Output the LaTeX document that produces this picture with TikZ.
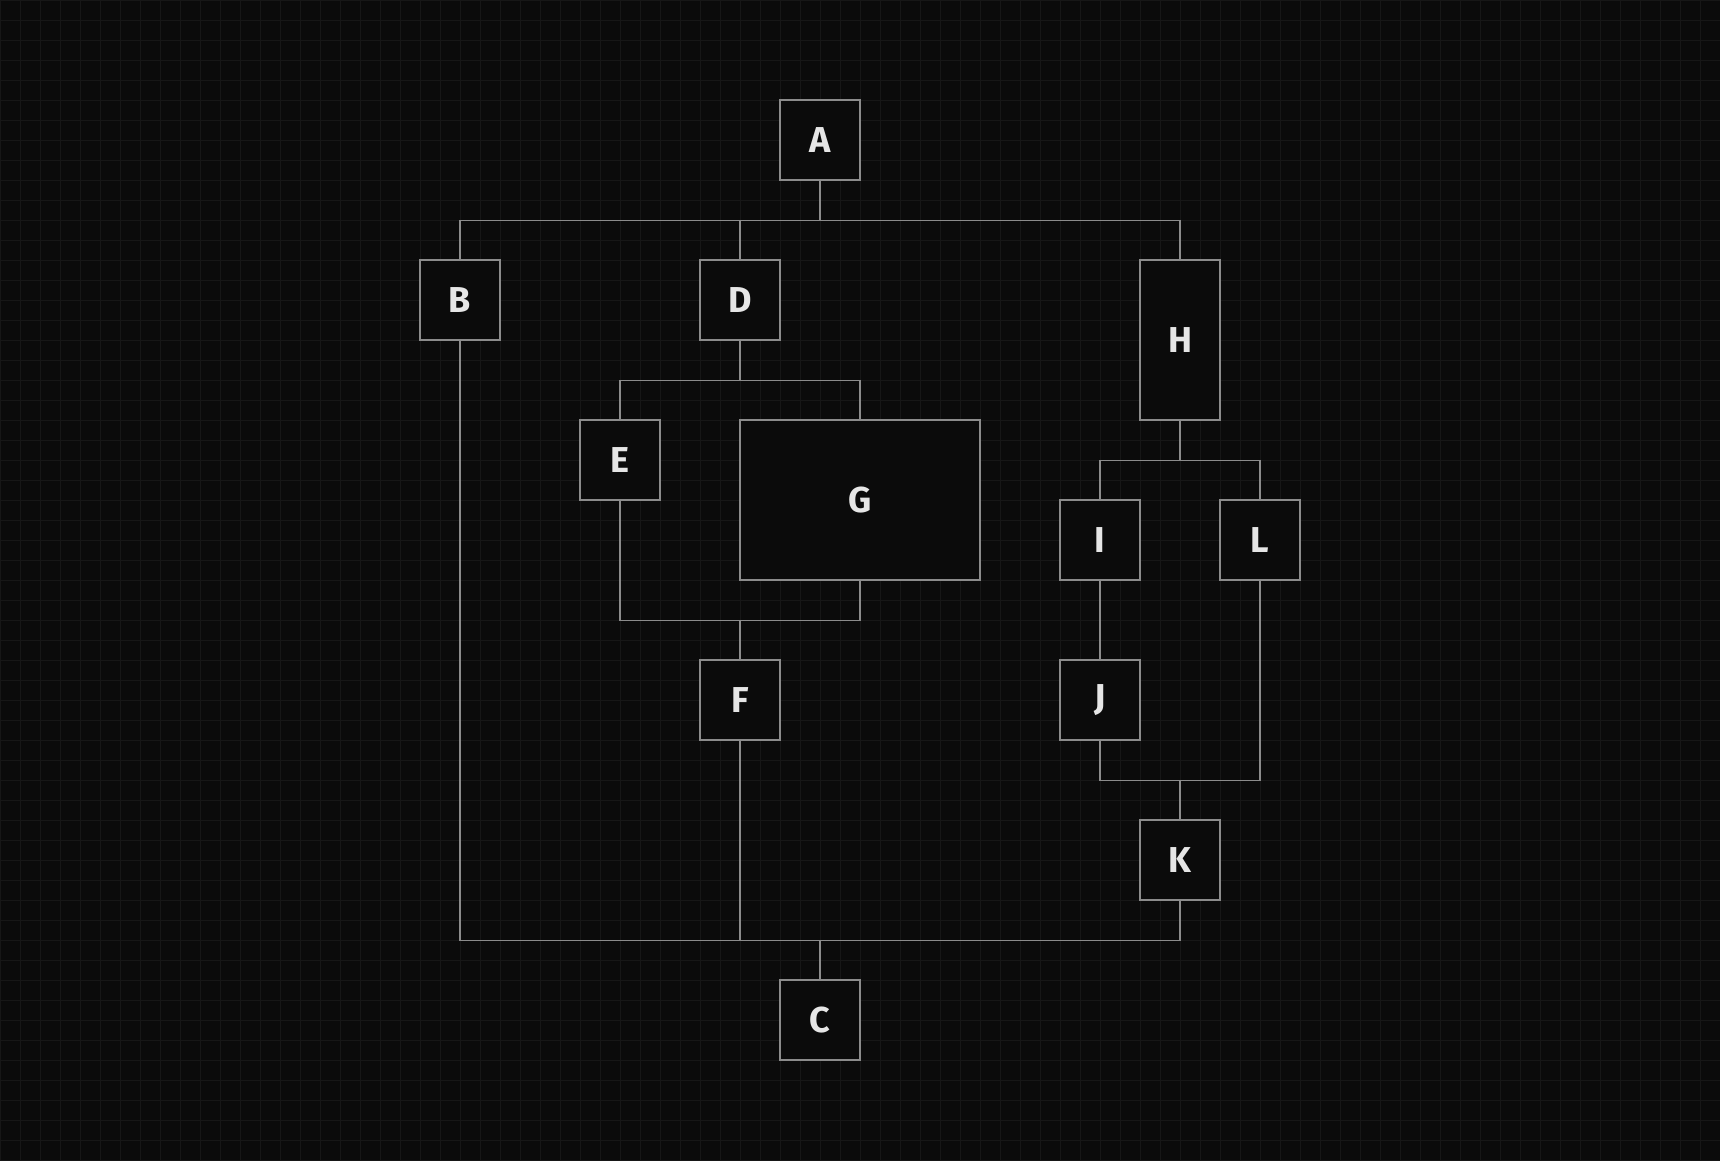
\documentclass[tikz,border=0pt]{standalone}
\usepackage{fontspec}
\setmainfont{Fira Sans}
\definecolor{bg}{HTML}{0B0B0B}
\definecolor{gridc}{HTML}{171717}
\definecolor{edge}{HTML}{8C8C8C}
\definecolor{txt}{HTML}{E6E6E6}
\begin{document}
\begin{tikzpicture}[x=1pt,y=-1pt,
  box/.style={draw=edge,line width=1.4pt,fill=bg,text=txt,inner sep=0pt,
    minimum width=80pt,minimum height=80pt,font=\fontsize{36}{40}\selectfont\bfseries},
  wire/.style={draw=edge,line width=1.4pt}]
\fill[bg] (0,0) rectangle (1720,1160);
\useasboundingbox (0,0) rectangle (1720,1160);
\draw[gridc,line width=1pt] (0,0) grid[step=20pt] (1720,1160);
\node[box] (A) at (820,140) {A};
\node[box] (B) at (460,300) {B};
\node[box] (D) at (740,300) {D};
\node[box,minimum height=160pt] (H) at (1180,340) {H};
\node[box] (E) at (620,460) {E};
\node[box,minimum width=240pt,minimum height=160pt] (G) at (860,500) {G};
\node[box] (F) at (740,700) {F};
\node[box] (I) at (1100,540) {I};
\node[box] (L) at (1260,540) {L};
\node[box] (J) at (1100,700) {J};
\node[box] (K) at (1180,860) {K};
\node[box] (C) at (820,1020) {C};
\draw[wire] (A.south) -- ++(0,40) -| (B.north);
\draw[wire] (A.south) -- ++(0,40) -| (D.north);
\draw[wire] (A.south) -- ++(0,40) -| (H.north);
\draw[wire] (D.south) -- ++(0,40) -| (E.north);
\draw[wire] (D.south) -- ++(0,40) -| (G.north);
\draw[wire] (E.south) -- ++(0,120) -| (F.north);
\draw[wire] (G.south) -- ++(0,40) -| (F.north);
\draw[wire] (H.south) -- ++(0,40) -| (I.north);
\draw[wire] (H.south) -- ++(0,40) -| (L.north);
\draw[wire] (I.south) -- (J.north);
\draw[wire] (J.south) -- ++(0,40) -| (K.north);
\draw[wire] (L.south) -- ++(0,200) -| (K.north);
\draw[wire] (B.south) -- ++(0,600) -| (C.north);
\draw[wire] (F.south) -- ++(0,200) -| (C.north);
\draw[wire] (K.south) -- ++(0,40) -| (C.north);
\end{tikzpicture}
\end{document}
